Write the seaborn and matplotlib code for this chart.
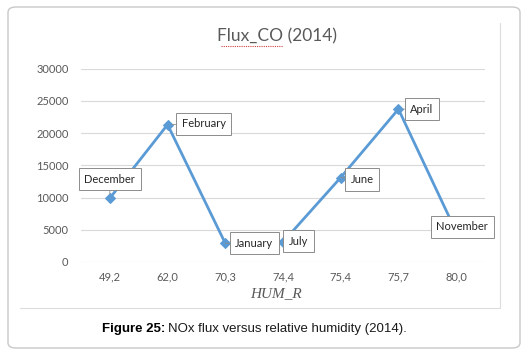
import matplotlib
matplotlib.use("Agg")
import matplotlib.pyplot as plt
import seaborn as sns
from matplotlib.patches import FancyBboxPatch
from matplotlib.lines import Line2D

# ---- data ----
hum_r = ["49,2", "62,0", "70,3", "74,4", "75,4", "75,7", "80,0"]
flux_co = [9900, 21300, 2900, 3100, 13100, 23700, 4700]
months = ["December", "February", "January", "July", "June", "April", "November"]
y_ticks = [0, 5000, 10000, 15000, 20000, 25000, 30000]
# label offsets in pixels (dx, dy) relative to each point, and alignment
label_offsets = [(0, 19), (14, 1), (10, 0), (6, 1), (10, -2), (12, 0), (6, 5)]
label_align = ["center", "left", "left", "left", "left", "left", "center"]

sns.set_theme(style="white")
plt.rcParams["font.family"] = ["Lato", "DejaVu Sans"]

fig = plt.figure(figsize=(5.29, 3.59), dpi=100)
fig.patch.set_facecolor("white")

# outer rounded box
fig.patches.append(FancyBboxPatch((8 / 529, 1 - 348 / 359), (520 - 8) / 529, (348 - 7) / 359,
                                  boxstyle="round,pad=0,rounding_size=0.015",
                                  transform=fig.transFigure, facecolor="none",
                                  edgecolor="#c8c8c8", lw=1.0, zorder=-1))
# inner chart frame (right + bottom)
fig.lines.append(Line2D([500 / 529, 500 / 529], [1 - 23 / 359, 1 - 308 / 359],
                        transform=fig.transFigure, color="#dcdcdc", lw=0.8))
fig.lines.append(Line2D([20 / 529, 500 / 529], [1 - 308 / 359, 1 - 308 / 359],
                        transform=fig.transFigure, color="#dcdcdc", lw=0.8))

ax = fig.add_axes([81 / 529, 1 - 262 / 359, 404 / 529, (262 - 68.5) / 359])
ax.set_facecolor("none")

sns.lineplot(x=hum_r, y=flux_co, sort=False, marker="D", markersize=5,
             color="#5b9bd5", linewidth=2.0, markeredgecolor="#5b9bd5", ax=ax, zorder=3)

ax.set_ylim(0, 30000)
ax.set_xlim(-0.5, len(hum_r) - 0.5)
ax.set_yticks(y_ticks)
ax.set_yticklabels([str(v) for v in y_ticks])
ax.grid(axis="y", color="#d9d9d9", lw=0.8)
ax.grid(axis="x", visible=False)
for s in ax.spines.values():
    s.set_visible(False)
ax.tick_params(axis="both", length=0, labelsize=8, labelcolor="#595959")
ax.tick_params(axis="y", pad=9)
ax.tick_params(axis="x", pad=7)
ax.set_xlabel("")
ax.set_ylabel("")

for i, (m, v, off, al) in enumerate(zip(months, flux_co, label_offsets, label_align)):
    ax.annotate(m, xy=(i, v), xytext=off, textcoords="offset pixels",
                ha=al, va="center",
                fontsize=8, color="#262626",
                bbox=dict(boxstyle="square,pad=0.5", fc="white", ec="#8c8c8c", lw=0.7),
                arrowprops=dict(arrowstyle="-", color="#8c8c8c", lw=0.6, shrinkA=0, shrinkB=3),
                zorder=4)

fig.text(277 / 529, 1 - 36 / 359, "Flux_CO (2014)", ha="center", va="center",
         fontsize=12.5, color="#595959")
# spell-check underline
fig.lines.append(Line2D([221 / 529, 283 / 529], [1 - 46 / 359, 1 - 46 / 359],
                        transform=fig.transFigure, color="#d04040", lw=0.8, ls=(0, (1, 1))))

fig.text(276 / 529, 1 - 294 / 359, "HUM_R", ha="center", va="center",
         fontsize=11, color="#595959", family="Liberation Serif", style="italic")

t1 = fig.text(102 / 529, 1 - 329 / 359, "Figure 25:", ha="left", va="center",
              fontsize=9.5, fontweight="bold", color="#000000", family="Liberation Sans")
fig.canvas.draw()
bb = t1.get_window_extent(renderer=fig.canvas.get_renderer())
fig.text((bb.x1 + 3) / 529, 1 - 329 / 359, "NOx flux versus relative humidity (2014).", ha="left",
         va="center", fontsize=9.5, color="#1a1a1a", family="Liberation Sans")

fig.savefig("out.png", dpi=100, facecolor="white")
